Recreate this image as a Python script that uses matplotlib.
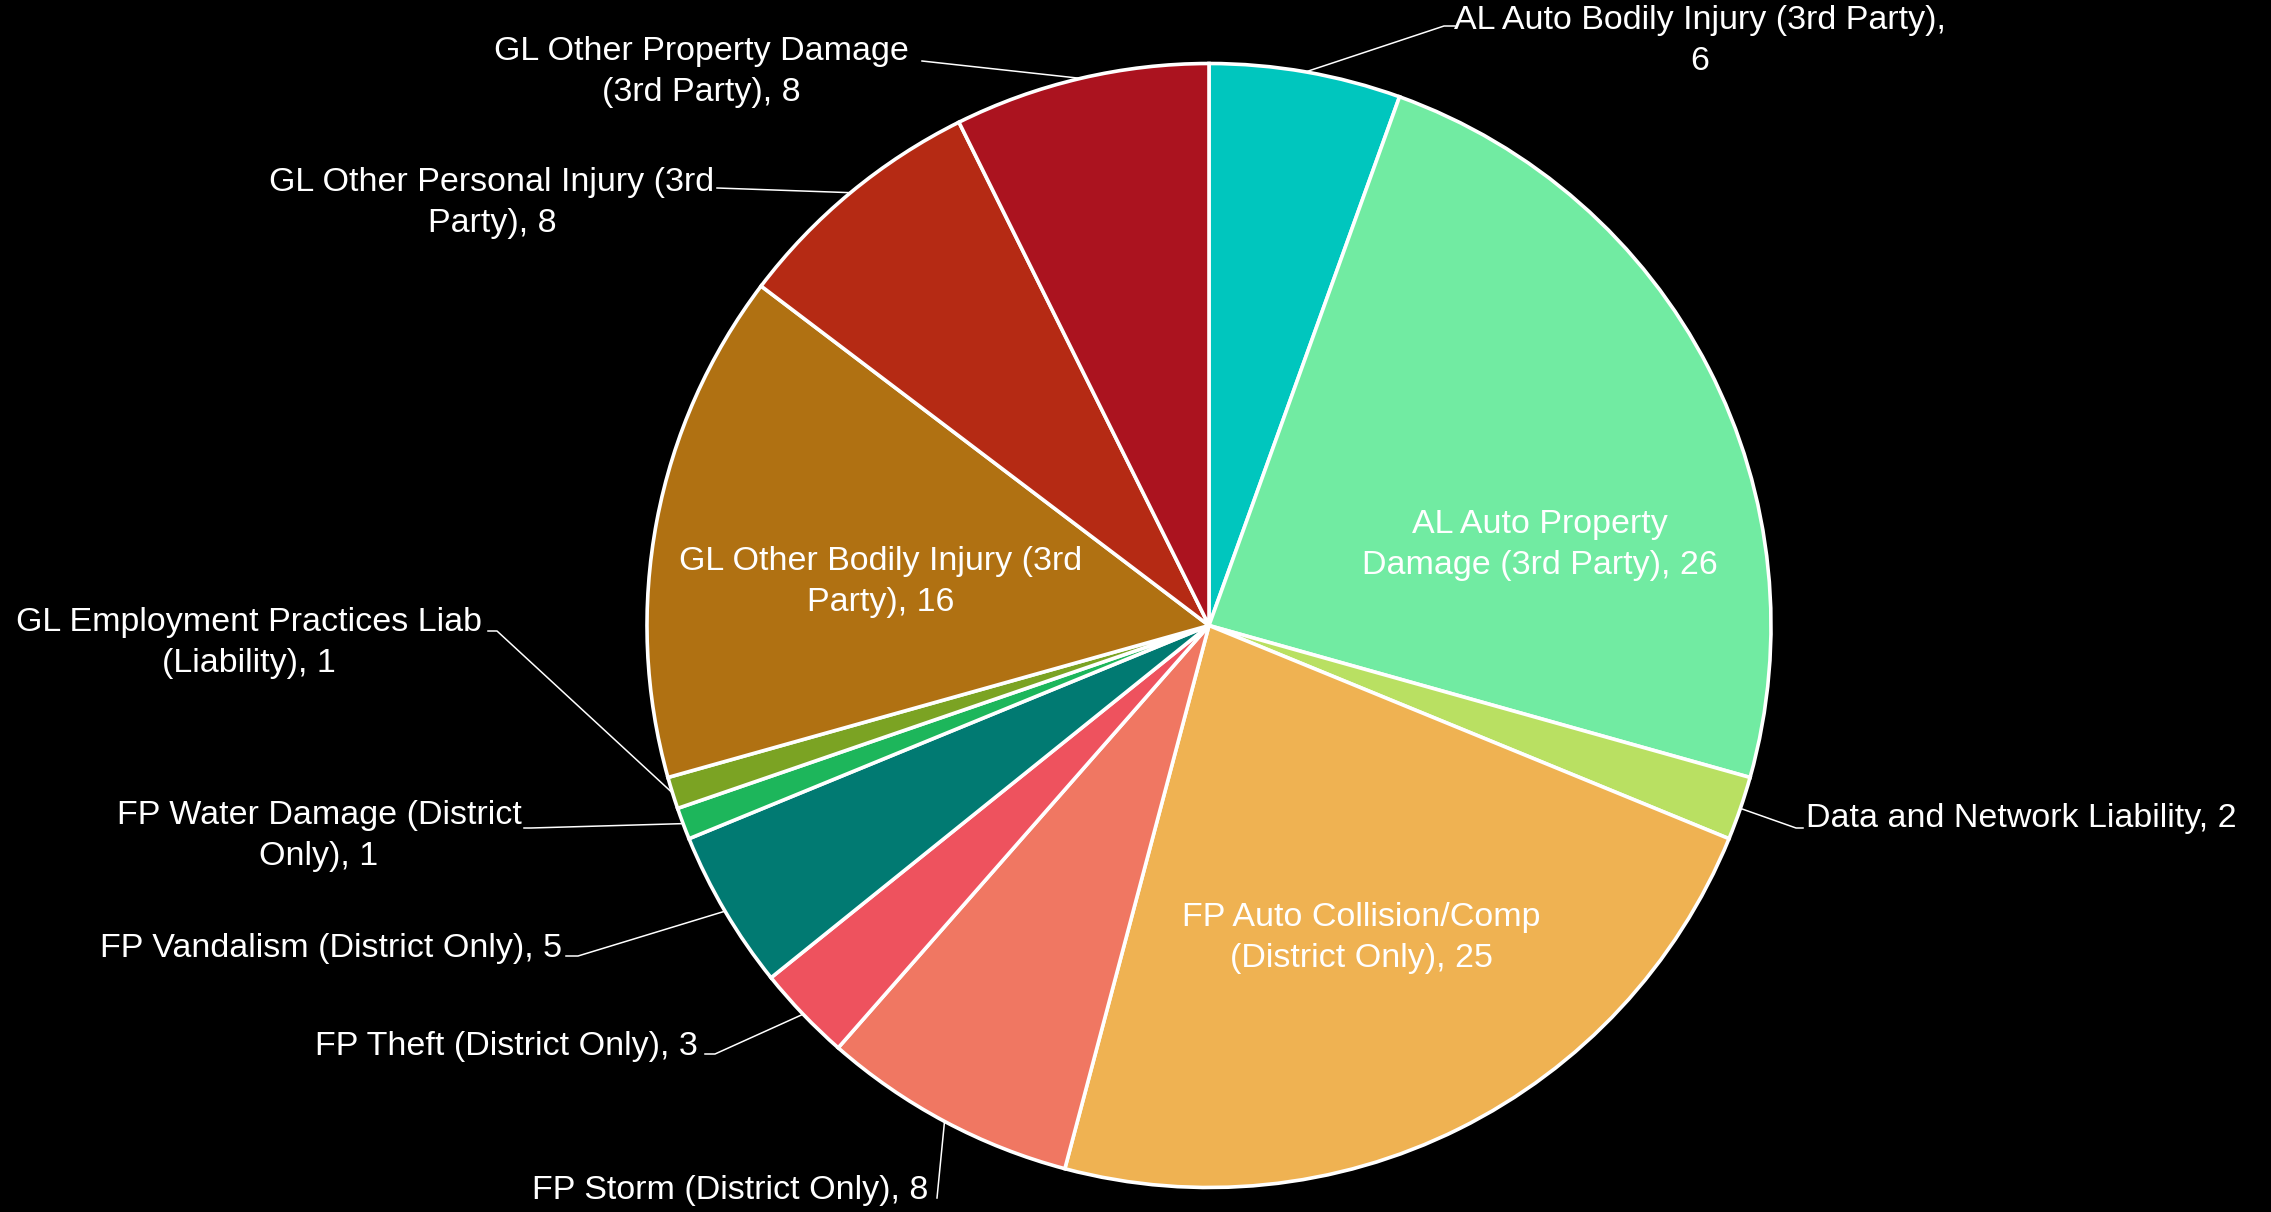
import numpy as np
from matplotlib import pyplot as plt

categories = [
    'AL Auto Bodily Injury (3rd Party)',
    'AL Auto Property Damage (3rd Party)',
    'Data and Network Liability',
    'FP Auto Collision/Comp (District Only)',
    'FP Storm (District Only)',
    'FP Theft (District Only)',
    'FP Vandalism (District Only)',
    'FP Water Damage (District Only)',
    'GL Employment Practices Liab (Liability)',
    'GL Other Bodily Injury (3rd Party)',
    'GL Other Personal Injury (3rd Party)',
    'GL Other Property Damage (3rd Party)',
]
values = [6, 26, 2, 25, 8, 3, 5, 1, 1, 16, 8, 8]
colors = ['#00C6BE', '#71EBA2', '#B9E062', '#EFB252', '#F07762', '#EE525E',
          '#017A72', '#1DB65B', '#7BA323', '#B07112', '#B52A14', '#AB131F']

# label layout in image pixels (origin top-left): break-after word, text pos, align, elbow, end
layout = {
    0: ('Party),', (1700, 41), 'center', (1444, 26), (1455, 26)),
    1: ('Property', (1540, 545), 'center', None, None),
    2: (None, (1806, 818), 'left', (1796, 828), (1803, 828)),
    3: ('Comp', (1361, 938), 'center', None, None),
    4: (None, (928, 1191), 'right', None, (937, 1198)),
    5: (None, (698, 1046), 'right', (715, 1054), (705, 1054)),
    6: (None, (562, 949), 'right', (578, 956), (566, 956)),
    7: ('(District', (319, 836), 'center', (531, 828), (524, 828)),
    8: ('Liab', (249, 643), 'center', (497, 631), (488, 631)),
    9: ('(3rd', (881, 582), 'center', None, None),
    10: ('(3rd', (492, 203), 'center', None, (717, 188)),
    11: ('Damage', (701, 72), 'center', None, (922, 61)),
}

W, H = 2271, 1212
fig = plt.figure(figsize=(W / 100, H / 100), dpi=100, facecolor='black')
plt.rcParams['font.family'] = ['Liberation Sans', 'DejaVu Sans']

cx, cy, r = 1209, 625.5, 562
ax = fig.add_axes([(cx - r) / W, (H - cy - r) / H, 2 * r / W, 2 * r / H])
wedges, _ = ax.pie(values, colors=colors, startangle=90, counterclock=False,
                   wedgeprops=dict(edgecolor='white', linewidth=2.6))
ax.set_xlim(-1, 1)
ax.set_ylim(-1, 1)
ax.axis('off')

ov = fig.add_axes([0, 0, 1, 1])
ov.set_xlim(0, W)
ov.set_ylim(H, 0)
ov.axis('off')

fig.canvas.draw()
to_ov = ax.transData + ov.transData.inverted()

for i, (cat, val) in enumerate(zip(categories, values)):
    txt = f'{cat}, {val}'
    brk, (tx, ty), ha, elbow, end = layout[i]
    if brk:
        k = txt.index(brk) + len(brk)
        txt = txt[:k] + '\n' + txt[k + 1:]
    ov.text(tx, ty, txt, ha=ha, va='center', multialignment='center',
            color='white', fontsize=24.5, linespacing=1.45)
    if end is not None:
        w = wedges[i]
        mid = np.deg2rad((w.theta1 + w.theta2) / 2)
        ex, ey = to_ov.transform((np.cos(mid), np.sin(mid)))
        pts = [(ex, ey)] + ([elbow] if elbow else []) + [end]
        xs, ys = zip(*pts)
        ov.plot(xs, ys, color='white', linewidth=1.1)

fig.savefig('out.png', dpi=100, facecolor='black')
